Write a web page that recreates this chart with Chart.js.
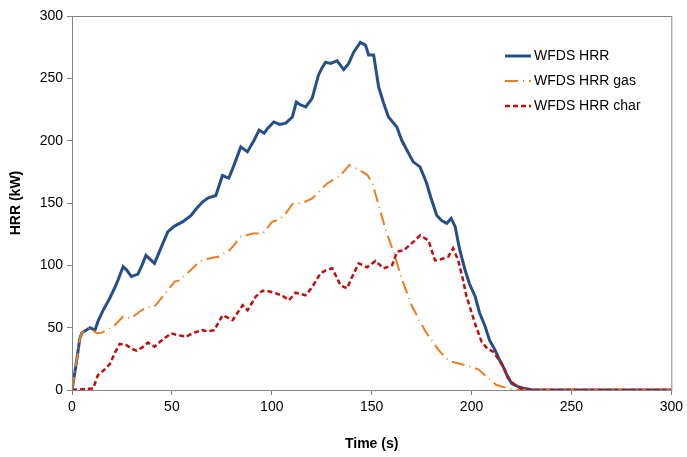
<!DOCTYPE html>
<html>
<head>
<meta charset="utf-8">
<script src="https://cdn.jsdelivr.net/npm/chart.js@4.4.1/dist/chart.umd.min.js"></script>
<style>
  html, body { margin: 0; padding: 0; background: #fff; }
  #wrap { width: 687px; height: 457px; }
</style>
</head>
<body>
<div id="wrap"><canvas id="myChart" width="687" height="457"></canvas></div>
<script>
// WFDS HRR total
const hrrT = [0,2,4,5,7,9,11.5,13,15.6,17,19,21.4,23,25.6,27.5,29.7,33,35,37,39,41.3,44,48,51.3,55.5,59.6,62,65.4,68,72,75.3,78.5,81,84.5,87.8,91,93.7,96.2,98,101,104,107,110.3,112.3,114,117,120.2,123.4,125,126.9,129.4,132.7,136,138.5,141,144.3,146.9,148.5,151,153.5,156,158.4,162.6,165,167.6,170.8,174.2,177.5,179.5,182.6,185,187.6,189.8,191.8,194,196.8,199,201.8,204,206.8,209,211.8,214,216.7,218,220,223.3,226,230,240,300];
const hrrV = [0,20,42,46,48,50,48,55,64,68,74,82,88,99,96,91,93,100,108,105,101.6,112,127,131.5,135,140,145,151,154,156,172,170,180,195,191,200,208.5,206,210,215,213,214,219,231,229,227,234,252.7,258,263,262,264,257,262,271,278.8,276.7,268.7,268.7,243,230,219,211,200.5,192.5,183,179,166,155,140,136,133.7,137.7,131,113,96,85,75,62,51,40,32,24,16,11,5.4,2.7,1.5,0.3,0,0];

// WFDS HRR gas
const gasT = [0,2,4,5,7,9,12.3,15,19,21.4,25.6,29.7,33.9,37,41.3,44.7,48,51.3,54,57.2,60,63.8,67,70.4,73.7,78.7,81,84.5,87,90.3,95.5,100.3,104,107,110.3,115.3,120.3,123.6,127.7,130,133.6,135.3,138.8,142,145.4,147.9,150.4,153.7,157.1,161.2,165.3,170.3,177,183.5,187,190,196.8,203.4,207.5,212.5,218.4,222,300];
const gasV = [0,20,42,46,48,50,45.5,46,49.5,52,59,57.5,63,66,67,73.5,80,87,88,93,97,103,105,106,107,112,116,123,124,125.6,125.6,135,137,141.7,149,150,153.7,159,165.7,168,171,173.8,180.5,177.8,175,172.4,165.7,147,128,109.6,88.2,66.8,46.8,32,26,22.7,20,16.6,10.7,4,1.3,0,0];

// WFDS HRR char
const charT = [0,10.6,13,16,19,21.5,23.9,27.3,30,32.3,35,38,41.3,45,49.6,53,57.2,61,65.4,68,71.2,75.4,78,80.4,85.4,87.9,92,95.3,99,102,105,108.6,111.9,116.9,120,124.4,127,130.3,134.4,137.7,140,143.5,147.7,151.9,156,160.2,162.7,166,171,174.3,178.4,181.7,185,188.4,190.8,193.3,195.5,197.5,201.7,205,208,210.8,215,218.4,221.7,225,228,300];
const charV = [0,1.3,12,16,21,30,37,36,33,31.5,34,38,34.7,40,45.5,44,42.8,46,48,47,48,60,58,56,68,64,75,79.6,79,77.5,76,72,78,76,82,93.6,96,97.6,84,81.5,90,101.6,98.4,103.5,97.6,100,111,112,119,124,120,104,105,107,113.6,104,90,75,53.5,38.8,33,30.7,21.4,9.4,4,1,0,0];

const seriesNames = ["WFDS HRR", "WFDS HRR gas", "WFDS HRR char"];
const xTicks = [0, 50, 100, 150, 200, 250, 300];
const yTicks = [0, 50, 100, 150, 200, 250, 300];

function pts(t, v) {
    return t.map((x, i) => ({x: x, y: v[i]}));
}

const FONT = "'Liberation Sans', Arial, sans-serif";
const axisCol = '#868686';

// box round the plot + legend in the top right corner
const frameAndLegend = {
    id: 'frameAndLegend',
    afterDraw(chart) {
        const ctx = chart.ctx;
        const a = chart.chartArea;
        ctx.save();
        ctx.strokeStyle = axisCol;
        ctx.lineWidth = 1;
        ctx.strokeRect(a.left + 0.5, a.top + 0.5, a.right - a.left, a.bottom - a.top);

        const sets = chart.data.datasets;
        let y = 56;
        for (let i = 0; i < sets.length; i++) {
            const ds = sets[i];
            ctx.strokeStyle = ds.borderColor;
            ctx.lineWidth = ds.borderWidth;
            ctx.setLineDash(ds.borderDash || []);
            ctx.beginPath();
            ctx.moveTo(505, y);
            ctx.lineTo(531, y);
            ctx.stroke();
            ctx.setLineDash([]);
            ctx.fillStyle = '#000';
            ctx.font = '14px ' + FONT;
            ctx.textBaseline = 'middle';
            ctx.fillText(ds.label, 534, y);
            y += 25;
        }
        ctx.restore();
    }
};

const data = {
    datasets: [
        {
            label: seriesNames[0],
            data: pts(hrrT, hrrV),
            borderColor: '#24508A',
            borderWidth: 3,
            order: 2
        },
        {
            label: seriesNames[1],
            data: pts(gasT, gasV),
            borderColor: '#EE7D1E',
            borderWidth: 2,
            borderDash: [13, 5, 1, 5],
            order: 1
        },
        {
            label: seriesNames[2],
            data: pts(charT, charV),
            borderColor: '#C40C0C',
            borderWidth: 2.5,
            borderDash: [5, 3],
            order: 0
        }
    ]
};

const config = {
    type: 'line',
    data: data,
    options: {
        responsive: false,
        animation: false,
        layout: { padding: { top: 16, right: 13, left: 4, bottom: 0 } },
        elements: { point: { radius: 0 }, line: { tension: 0, fill: false } },
        plugins: { legend: { display: false }, tooltip: { enabled: false } },
        scales: {
            x: {
                type: 'linear',
                min: 0,
                max: 300,
                afterBuildTicks: s => { s.ticks = xTicks.map(v => ({value: v})); },
                afterFit: s => { s.height = 67; },
                grid: { drawOnChartArea: false, drawTicks: true, tickLength: 5, color: axisCol },
                border: { color: axisCol },
                ticks: { color: '#000', font: { family: FONT, size: 14 }, padding: 4, maxRotation: 0 },
                title: { display: true, text: 'Time (s)', color: '#000', font: { family: FONT, size: 14, weight: 'bold' }, padding: { top: 14 } }
            },
            y: {
                min: 0,
                max: 300,
                afterBuildTicks: s => { s.ticks = yTicks.map(v => ({value: v})); },
                afterFit: s => { s.width = 68; },
                grid: { drawOnChartArea: false, drawTicks: true, tickLength: 5, color: axisCol },
                border: { color: axisCol },
                ticks: { color: '#000', font: { family: FONT, size: 14 }, padding: 4 },
                title: { display: true, text: 'HRR (kW)', color: '#000', font: { family: FONT, size: 14, weight: 'bold' }, padding: { bottom: 6 } }
            }
        }
    },
    plugins: [frameAndLegend]
};

let chart = new Chart(document.getElementById('myChart'), config);
</script>
</body>
</html>
